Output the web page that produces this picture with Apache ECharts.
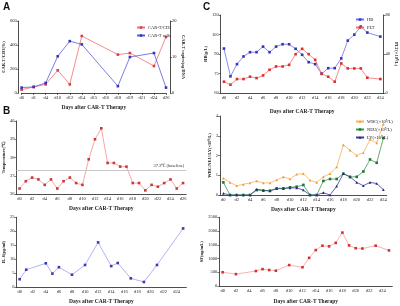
<!DOCTYPE html>
<html>
<head>
<meta charset="utf-8">
<script src="https://cdn.jsdelivr.net/npm/echarts@6/dist/echarts.min.js"></script>
<style>
  html, body { margin: 0; padding: 0; background: #fff; }
  #main { width: 400px; height: 306px; }
</style>
</head>
<body>
<div id="main"></div>
<script>
// ---- 数据 ----
// A: CAR-T 扩增
var aDays = ['d0', 'd1', 'd4', 'd10', 'd12', 'd14', 'd15', 'd16', 'd18', 'd19', 'd21', 'd24', 'd26'];
var aPointDays = ['d0', 'd1', 'd4', 'd10', 'd12', 'd14', 'd18', 'd19', 'd24', 'd26'];
var carCd3 = [28, 50, 72, 189, 72, 475, 320, 333, 225, 467];
var carCells = [1.5, 1.7, 2.8, 10.2, 14.4, 13.5, 1.9, 10.0, 11.1, 1.5];

// B: 体温
var tempDays = ['d0', 'd1', 'd2', 'd3', 'd4', 'd5', 'd6', 'd7', 'd8', 'd9', 'd10', 'd11', 'd12', 'd13',
    'd14', 'd15', 'd16', 'd17', 'd18', 'd19', 'd20', 'd21', 'd22', 'd23', 'd24', 'd25', 'd26'];
var temperature = [36.3, 36.7, 36.9, 36.8, 36.5, 36.8, 36.3, 36.7, 36.9, 36.6, 36.5, 37.9, 39.0, 39.6,
    37.7, 37.7, 37.5, 37.5, 36.6, 36.6, 36.2, 36.5, 36.4, 36.6, 36.8, 36.3, 36.6];
var baseline = 37.3;

// IL-6
var il6Axis = tempDays.slice(0, 26);
var il6Days = ['d0', 'd1', 'd4', 'd5', 'd6', 'd8', 'd10', 'd12', 'd14', 'd15', 'd17', 'd19', 'd21', 'd25'];
var il6 = [2.8, 6.2, 8.5, 4.8, 7.1, 4.4, 7.9, 16.0, 7.5, 8.6, 3.1, 1.8, 7.9, 21.0];

// C: HB / PLT
var cAxis = tempDays.slice(0, 25);
var cDays = ['d0', 'd1', 'd2', 'd3', 'd4', 'd5', 'd6', 'd7', 'd8', 'd9', 'd10', 'd11', 'd12', 'd13',
    'd14', 'd15', 'd16', 'd17', 'd18', 'd19', 'd20', 'd21', 'd22', 'd24'];
var hb = [94.2, 72.8, 82.2, 88.1, 91.4, 91.4, 95.7, 91.4, 95.7, 97.5, 97.5, 94, 89.4, 83.7,
    82.2, 74.8, 79.1, 79.1, 86.6, 100.3, 104.9, 111.1, 106.5, 103.4];
var plt = [11.6, 8.5, 14.3, 14.3, 16.7, 15.3, 18, 23.8, 27.2, 27.2, 28.9, 39.8, 45.3, 39.8,
    34, 19.7, 16.7, 11.6, 30.3, 25.2, 25.2, 25.2, 15.7, 14.3];

// WBC / NEU / LY
var dAxis = tempDays.slice(0, 25);
var wbc = [0.85, 0.64, 0.47, 0.54, 0.61, 0.71, 0.61, 0.61, 0.76, 0.92, 0.81, 1.05, 1.08, 0.75,
    0.64, 0.92, 1.08, 1.42, 2.54, 2.27, 2.0, 2.14, 2.81, 2.64, 3.59];
var neu = [0.64, 0, 0, 0, 0, 0.25, 0.22, 0.22, 0.34, 0.34, 0.39, 0.42, 0.51, 0,
    0, 0.71, 0.81, 0.81, 1.08, 0.92, 0.92, 1.19, 1.8, 1.63, 2.88];
var ly = [0.08, 0, 0, 0, 0, 0.29, 0.24, 0.2, 0.32, 0.32, 0.36, 0.36, 0.25, 0,
    0, 0.12, 0, 0.45, 1.08, 0.92, 0.64, 0.47, 0.64, 0.58, 0.27];

// SF
var sfAxis = tempDays.slice(0, 26);
var sfDays = ['d0', 'd2', 'd5', 'd6', 'd7', 'd8', 'd10', 'd12', 'd13', 'd14', 'd15', 'd16', 'd17',
    'd18', 'd19', 'd20', 'd21', 'd23', 'd25'];
var sf = [500, 432, 545, 614, 580, 557, 761, 682, 1023, 1307, 1466, 1443, 1568, 1943, 1477, 1375, 1364, 1466, 1295];

var FONT = 'Liberation Serif';
var xTitle = 'Days after CAR-T Therapy';

// 把日期和数值配对
var pairs = function (days, vals) {
    var out = [];
    days.forEach(function (d, i) { out.push([d, vals[i]]); });
    return out;
};

var xAxisOf = function (gi, data, gap, opt) {
    opt = opt || {};
    return {
        type: 'category', gridIndex: gi, data: data,
        boundaryGap: opt.boundaryGap !== false,
        name: xTitle, nameLocation: 'middle', nameGap: gap,
        nameTextStyle: { fontFamily: FONT, fontSize: 5.5, fontWeight: 'bold', color: '#222' },
        axisLine: { lineStyle: { color: '#222', width: 0.8 } },
        axisTick: { alignWithLabel: true, length: 2, lineStyle: { width: 0.6 } },
        axisLabel: { interval: opt.interval == null ? 1 : opt.interval, fontFamily: FONT, fontSize: 4.5, margin: 2.5, color: '#222' },
        splitLine: { show: false }
    };
};

var yAxisOf = function (gi, name, min, max, interval, gap, opt) {
    opt = opt || {};
    return {
        type: 'value', gridIndex: gi, min: min, max: max, interval: interval,
        position: opt.position || 'left', offset: opt.offset || 0,
        name: name, nameLocation: 'middle', nameGap: gap,
        nameRotate: opt.position === 'right' ? -90 : 90,
        nameTextStyle: { fontFamily: FONT, fontSize: 4.5, fontWeight: 'bold', color: '#222' },
        axisLine: { show: true, lineStyle: { color: '#222', width: 0.8 } },
        axisTick: { show: true, length: 2, lineStyle: { width: 0.6 } },
        axisLabel: { fontFamily: FONT, fontSize: 4.5, margin: 2, color: '#222',
            formatter: function (v) { return String(v); } },
        splitLine: { show: false }
    };
};

var lineOf = function (name, xi, yi, data, lineColor, markColor, symbol) {
    return {
        name: name, type: 'line', xAxisIndex: xi, yAxisIndex: yi, data: data,
        symbol: symbol || 'rect', symbolSize: 2.6, connectNulls: true,
        lineStyle: { color: lineColor, width: 0.8 },
        itemStyle: { color: markColor },
        emphasis: { disabled: true }
    };
};

var legendOf = function (left, top, names) {
    return {
        left: left, top: top, orient: 'vertical', data: names,
        itemWidth: 8, itemHeight: 3, itemGap: 3,
        textStyle: { fontFamily: FONT, fontSize: 4.5, color: '#222', padding: [0, 0, 0, -2] }
    };
};

var myChart = echarts.init(document.getElementById('main'));

var option = {
    animation: false,
    backgroundColor: '#fff',
    grid: [
        { left: 15, right: 234, top: 21, bottom: 213 },   // A
        { left: 12.8, right: 213.8, top: 121, bottom: 112 },   // 体温
        { left: 12.7, right: 213.6, top: 217.3, bottom: 15.3 },  // IL-6
        { left: 220.7, right: 12.7, top: 15, bottom: 213 },  // C
        { left: 220, right: 13.3, top: 116, bottom: 111 },  // 血常规
        { left: 219.3, right: 7.7, top: 217.3, bottom: 15.3 }  // SF
    ],
    xAxis: [
        xAxisOf(0, aDays, 12, { boundaryGap: false, interval: 0 }),
        xAxisOf(1, tempDays, 12),
        xAxisOf(2, il6Axis, 12),
        xAxisOf(3, cAxis, 16),
        xAxisOf(4, dAxis, 12),
        xAxisOf(5, sfAxis, 13)
    ],
    yAxis: [
        yAxisOf(0, 'CAR-T/CD3(%)', 0, 600, 200, 8, { offset: 3 }),
        yAxisOf(0, 'CAR-T copies/μg DNA', 0, 20, 10, 7, { position: 'right', offset: 4 }),
        yAxisOf(1, 'Temperature(℃)', 36, 40, 1, 7),
        yAxisOf(2, 'IL-6(pg/ml)', 0, 25, 5, 7),
        yAxisOf(3, 'HB(g/L)', 60, 120, 15, 10),
        yAxisOf(3, 'PLT(×10⁹/L)', 0, 80, 40, 7, { position: 'right' }),
        yAxisOf(4, 'WBC/NEU/LY(×10⁹/L)', 0, 4, 1, 7),
        yAxisOf(5, 'SF(ng/mL)', 0, 2500, 500, 11)
    ],
    legend: [
        legendOf(131, 20, ['CAR-T/CD3', 'CAR-T cells']),
        legendOf(350, 12, ['HB', 'PLT']),
        legendOf(350, 114, ['WBC(×10⁹/L)', 'NEU(×10⁹/L)', 'LY(×10⁹/L)'])
    ],
    graphic: [
        { type: 'text', left: 3, top: 2, style: { text: 'A', font: 'bold 10px Liberation Sans', fill: '#111' } },
        { type: 'text', left: 3, top: 106, style: { text: 'B', font: 'bold 10px Liberation Sans', fill: '#111' } },
        { type: 'text', left: 203, top: 2, style: { text: 'C', font: 'bold 10px Liberation Sans', fill: '#111' } }
    ],
    series: [
        lineOf('CAR-T/CD3', 0, 0, pairs(aPointDays, carCd3), '#f07070', '#e03a3a'),
        lineOf('CAR-T cells', 0, 1, pairs(aPointDays, carCells), '#5a5ae0', '#3434b8'),
        {
            name: 'Temperature', type: 'line', xAxisIndex: 1, yAxisIndex: 2, data: temperature,
            symbol: 'rect', symbolSize: 2.6,
            lineStyle: { color: '#f29090', width: 0.8 },
            itemStyle: { color: '#c83a3a' },
            markLine: {
                silent: true, symbol: 'none',
                lineStyle: { color: '#c8c8c8', type: 'solid', width: 1 },
                label: {
                    position: 'insideEndTop', formatter: '37.3℃ (baseline)',
                    fontFamily: FONT, fontSize: 4.5, color: '#333', distance: 2
                },
                data: [{ yAxis: baseline }]
            }
        },
        lineOf('IL-6', 2, 3, pairs(il6Days, il6), '#a0a0f2', '#3a3ab0'),
        lineOf('HB', 3, 4, pairs(cDays, hb), '#7070ea', '#3434b8'),
        lineOf('PLT', 3, 5, pairs(cDays, plt), '#f07070', '#d83030'),
        lineOf('WBC(×10⁹/L)', 4, 6, wbc, '#f6b45a', '#f09a30', 'triangle'),
        lineOf('NEU(×10⁹/L)', 4, 6, neu, '#3f9a4c', '#1f7a30'),
        lineOf('LY(×10⁹/L)', 4, 6, ly, '#3a3a9a', '#22227a', 'triangle'),
        lineOf('SF', 5, 7, pairs(sfDays, sf), '#f4a0a0', '#d43030')
    ]
};

myChart.setOption(option);
</script>
</body>
</html>
